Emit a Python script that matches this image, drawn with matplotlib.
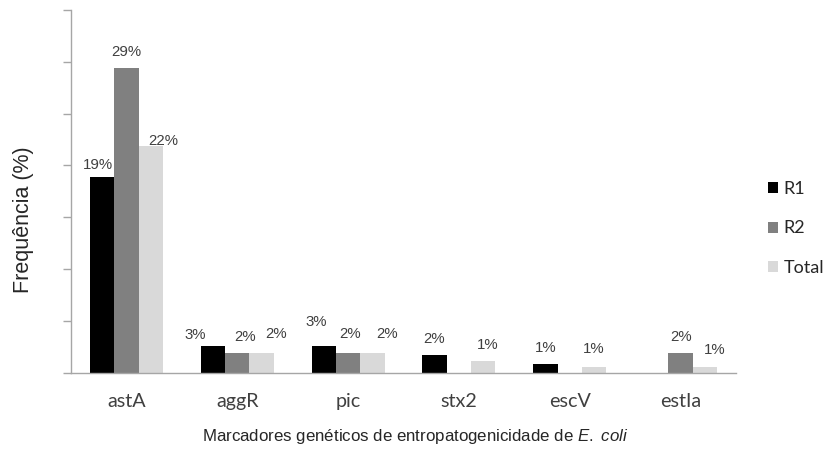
import matplotlib
matplotlib.use("Agg")
import matplotlib.pyplot as plt
import numpy as np

# Frequency (%) of each enteropathogenicity marker per region
categories = ["astA", "aggR", "pic", "stx2", "escV", "estIa"]
series_names = ["R1", "R2", "Total"]
r1_values = [18.9, 2.6, 2.6, 1.7, 0.8, 0.0]
r2_values = [29.4, 1.9, 1.9, 0.0, 0.0, 1.9]
total_values = [21.9, 1.9, 1.9, 1.1, 0.5, 0.5]

colors = ["#000000", "#808080", "#d9d9d9"]

# hand-placed label nudges (px) relative to a centred label 16 px above the bar
label_nudge = {
    (0, 0): (-4, -4), (0, 2): (12, -11),
    (1, 0): (-18, -5), (1, 1): (8, 0), (1, 2): (14, 3),
    (2, 0): (-7, 8), (2, 1): (2, 3), (2, 2): (15, 3),
    (3, 2): (4, 0), (4, 2): (0, 2), (5, 2): (10, 1),
}


def pct_label(v):
    # round half up, as the spreadsheet does
    return f"{int(np.floor(v + 0.5))}%"


def main():
    plt.rcParams["mathtext.fontset"] = "custom"
    plt.rcParams["mathtext.it"] = "Liberation Sans:italic"
    plt.rcParams["mathtext.rm"] = "Liberation Sans"

    dpi = 100
    fig = plt.figure(figsize=(8.28, 4.51), dpi=dpi)
    W, H = 828, 451
    ax = fig.add_axes([71 / W, (H - 372.5) / H, (736 - 71) / W, (372.5 - 10) / H])

    x = np.arange(len(categories))
    width = 0.22
    all_values = [r1_values, r2_values, total_values]
    for s, (name, vals, col) in enumerate(zip(series_names, all_values, colors)):
        pos = x + (s - 1) * width
        ax.bar(pos, vals, width, color=col, label=name, edgecolor="none")
        for i, v in enumerate(vals):
            if v <= 0:
                continue
            dx, dy = label_nudge.get((i, s), (0, 0))
            ax.annotate(pct_label(v), (pos[i], v),
                        xytext=(dx * 0.72, (16 + dy) * 0.72),
                        textcoords="offset points", ha="center", va="center",
                        fontsize=10.8, color="#404040", family="Liberation Sans")

    ax.set_xlim(-0.5, len(categories) - 0.5)
    ax.set_ylim(0, 35)
    ax.set_yticks(np.arange(0, 36, 5))
    ax.set_yticklabels([])
    ax.set_xticks(x)
    ax.set_xticklabels(categories, family="Lato", fontsize=14.2, color="#404040")
    ax.tick_params(axis="x", length=0, pad=15)
    ax.tick_params(axis="y", length=6, color="#a6a6a6", width=1)
    for side in ["top", "right"]:
        ax.spines[side].set_visible(False)
    for side in ["left", "bottom"]:
        ax.spines[side].set_color("#a6a6a6")
        ax.spines[side].set_linewidth(1)

    fig.text(24 / W, 1 - 220 / H, "Frequência (%)", rotation=90, ha="center",
             va="center", fontsize=15.5, color="#262626", family="Liberation Sans")
    fig.text(415 / W, 1 - 437 / H,
             r"Marcadores genéticos de entropatogenicidade de $\mathit{E.\ coli}$",
             ha="center", va="center", fontsize=12.2, color="#262626",
             family="Liberation Sans")

    fig.legend(loc="upper left", bbox_to_anchor=(768 / W, 1 - 181 / H),
               frameon=False, prop={"family": "Lato", "size": 13},
               handlelength=0.55, handleheight=0.55, handletextpad=0.3,
               labelspacing=1.3, borderpad=0, borderaxespad=0,
               labelcolor="#262626")

    fig.savefig("out.png", dpi=dpi)


if __name__ == "__main__":
    main()
